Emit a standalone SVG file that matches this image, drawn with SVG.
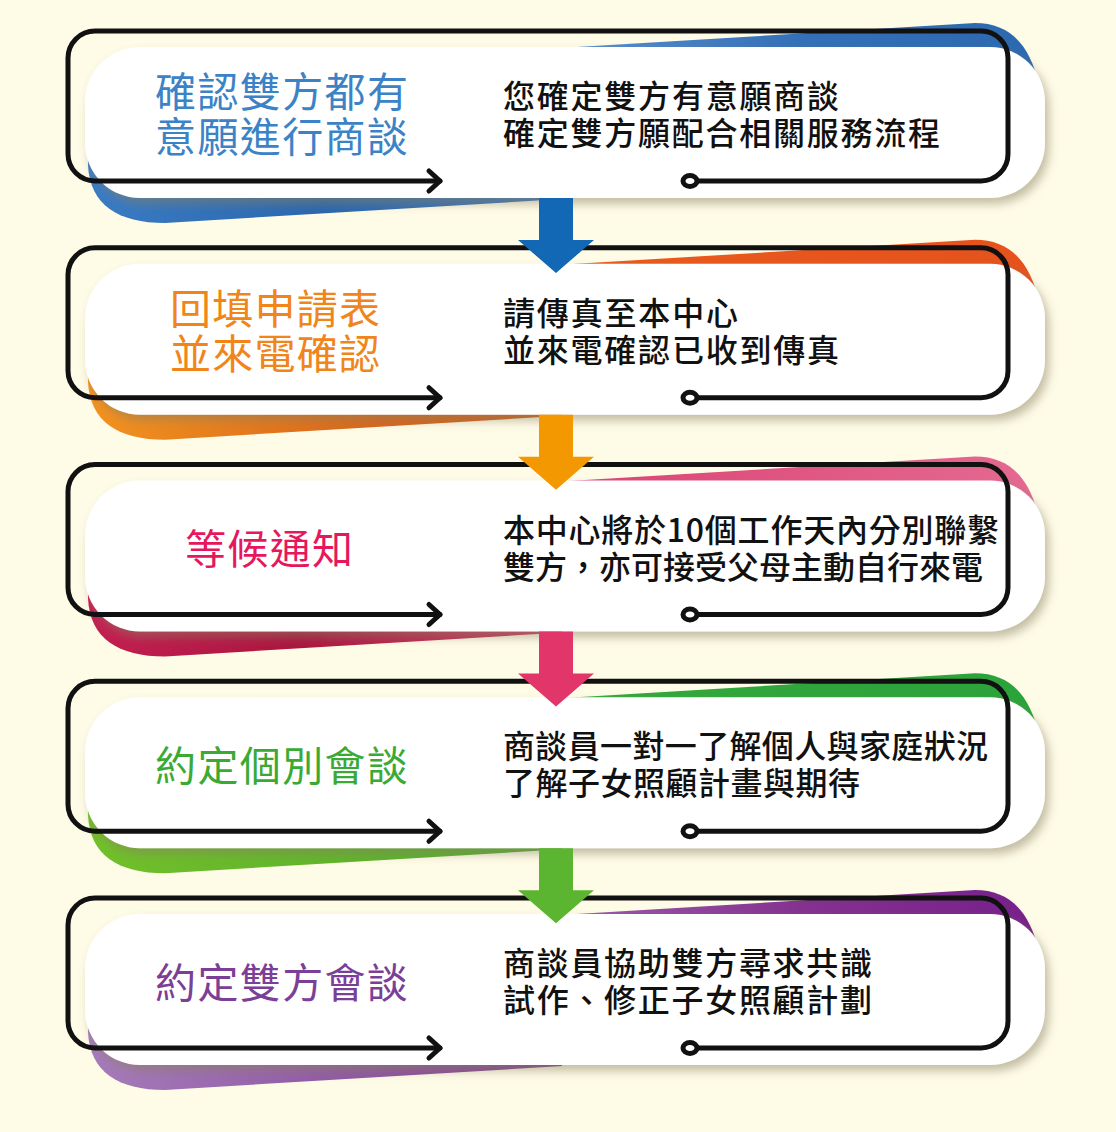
<svg xmlns="http://www.w3.org/2000/svg" width="1116" height="1132" viewBox="0 0 1116 1132">
<defs>
<style>
.box{fill:#ffffff;filter:url(#sh)}
.frame{fill:none;stroke:#111;stroke-width:5;stroke-linecap:round;stroke-linejoin:round}
.ring{fill:#fff;stroke:#111;stroke-width:5}
.title{font-family:"Noto Sans CJK TC","Noto Sans CJK SC",sans-serif;font-size:41px;font-weight:400}
.desc{font-family:"Noto Sans CJK TC","Noto Sans CJK SC",sans-serif;font-size:32px;font-weight:500;fill:#111}
</style>
<filter id="sh" x="-5%" y="-20%" width="112%" height="150%">
<feGaussianBlur in="SourceAlpha" stdDeviation="5"/>
<feOffset dx="4" dy="6" result="b"/>
<feFlood flood-color="#8a8060" flood-opacity="0.5"/>
<feComposite in2="b" operator="in"/>
<feMerge><feMergeNode/><feMergeNode in="SourceGraphic"/></feMerge>
</filter>
<linearGradient id="blueA" gradientUnits="userSpaceOnUse" x1="560" y1="0" x2="1040" y2="0"><stop offset="0" stop-color="#5b8fd0"/><stop offset="0.5" stop-color="#3470b8"/><stop offset="1" stop-color="#2c68b0"/></linearGradient>
<linearGradient id="blueB" gradientUnits="userSpaceOnUse" x1="88" y1="0" x2="562" y2="0"><stop offset="0" stop-color="#3a7cc4"/><stop offset="0.5" stop-color="#2b66ae"/><stop offset="1" stop-color="#3b76bd"/></linearGradient>
<linearGradient id="orA" gradientUnits="userSpaceOnUse" x1="560" y1="0" x2="1040" y2="0"><stop offset="0" stop-color="#ea5a1c"/><stop offset="1" stop-color="#e5521c"/></linearGradient>
<linearGradient id="orB" gradientUnits="userSpaceOnUse" x1="88" y1="0" x2="562" y2="0"><stop offset="0" stop-color="#f29220"/><stop offset="0.6" stop-color="#d9661a"/><stop offset="1" stop-color="#cf5a17"/></linearGradient>
<linearGradient id="pkA" gradientUnits="userSpaceOnUse" x1="560" y1="0" x2="1040" y2="0"><stop offset="0" stop-color="#dc4274"/><stop offset="1" stop-color="#e46a92"/></linearGradient>
<linearGradient id="pkB" gradientUnits="userSpaceOnUse" x1="88" y1="0" x2="562" y2="0"><stop offset="0" stop-color="#c41f52"/><stop offset="0.45" stop-color="#a9163f"/><stop offset="1" stop-color="#cf3b66"/></linearGradient>
<linearGradient id="grA" gradientUnits="userSpaceOnUse" x1="560" y1="0" x2="1040" y2="0"><stop offset="0" stop-color="#35a83e"/><stop offset="1" stop-color="#2aa33a"/></linearGradient>
<linearGradient id="grB" gradientUnits="userSpaceOnUse" x1="88" y1="0" x2="562" y2="0"><stop offset="0" stop-color="#72bf2a"/><stop offset="1" stop-color="#4faa2d"/></linearGradient>
<linearGradient id="puA" gradientUnits="userSpaceOnUse" x1="560" y1="0" x2="1040" y2="0"><stop offset="0" stop-color="#9a5cad"/><stop offset="0.5" stop-color="#84328f"/><stop offset="1" stop-color="#76208a"/></linearGradient>
<linearGradient id="puB" gradientUnits="userSpaceOnUse" x1="88" y1="0" x2="562" y2="0"><stop offset="0" stop-color="#a57cb9"/><stop offset="1" stop-color="#7e3b92"/></linearGradient>
</defs>
<rect x="0" y="0" width="1116" height="1132" fill="#fefbe7"/>

<g id="step1">
<path fill="url(#blueA)" d="M 560,48 L 975,23 C 1010,23 1030,45 1039,85 L 1039,120 L 560,120 Z"/>
<path fill="url(#blueB)" d="M 88,140 L 88,165 C 90,205 118,223 165,223 L 562,199 L 562,140 Z"/>
<rect class="box" x="85" y="47" width="960" height="151" rx="55"/>
<path class="frame" d="M 440,181 L 95,181 A 27 27 0 0 1 68,154 L 68,58 A 27 27 0 0 1 95,31 L 981,31 A 27 27 0 0 1 1008,58 L 1008,154 A 27 27 0 0 1 981,181 L 697,181"/>
<path class="frame" d="M 429,171 L 440,181 L 429,191"/>
<ellipse class="ring" cx="690" cy="181" rx="7" ry="5.5"/>
<text class="title" fill="#3b83c6" x="155" y="107" textLength="253" lengthAdjust="spacing">確認雙方都有</text>
<text class="title" fill="#3b83c6" x="155" y="152" textLength="253" lengthAdjust="spacing">意願進行商談</text>
<text class="desc" x="503" y="108" textLength="336" lengthAdjust="spacing">您確定雙方有意願商談</text>
<text class="desc" x="503" y="145" textLength="437" lengthAdjust="spacing">確定雙方願配合相關服務流程</text>
</g>

<g id="step2" transform="translate(0,216.75)">
<path fill="url(#orA)" d="M 560,48 L 975,23 C 1010,23 1030,45 1039,85 L 1039,120 L 560,120 Z"/>
<path fill="url(#orB)" d="M 88,140 L 88,165 C 90,205 118,223 165,223 L 562,199 L 562,140 Z"/>
<rect class="box" x="85" y="47" width="960" height="151" rx="55"/>
<path class="frame" d="M 440,181 L 95,181 A 27 27 0 0 1 68,154 L 68,58 A 27 27 0 0 1 95,31 L 981,31 A 27 27 0 0 1 1008,58 L 1008,154 A 27 27 0 0 1 981,181 L 697,181"/>
<path class="frame" d="M 429,171 L 440,181 L 429,191"/>
<ellipse class="ring" cx="690" cy="181" rx="7" ry="5.5"/>
<text class="title" fill="#f08519" x="170" y="107" textLength="210" lengthAdjust="spacing">回填申請表</text>
<text class="title" fill="#f08519" x="170" y="152" textLength="210" lengthAdjust="spacing">並來電確認</text>
<text class="desc" x="503" y="108" textLength="235" lengthAdjust="spacing">請傳真至本中心</text>
<text class="desc" x="503" y="145" textLength="336" lengthAdjust="spacing">並來電確認已收到傳真</text>
</g>

<g id="step3" transform="translate(0,433.5)">
<path fill="url(#pkA)" d="M 560,48 L 975,23 C 1010,23 1030,45 1039,85 L 1039,120 L 560,120 Z"/>
<path fill="url(#pkB)" d="M 88,140 L 88,165 C 90,205 118,223 165,223 L 562,199 L 562,140 Z"/>
<rect class="box" x="85" y="47" width="960" height="151" rx="55"/>
<path class="frame" d="M 440,181 L 95,181 A 27 27 0 0 1 68,154 L 68,58 A 27 27 0 0 1 95,31 L 981,31 A 27 27 0 0 1 1008,58 L 1008,154 A 27 27 0 0 1 981,181 L 697,181"/>
<path class="frame" d="M 429,171 L 440,181 L 429,191"/>
<ellipse class="ring" cx="690" cy="181" rx="7" ry="5.5"/>
<text class="title" fill="#e6175c" x="185" y="130" textLength="168" lengthAdjust="spacing">等候通知</text>
<text class="desc" x="503" y="108" textLength="496" lengthAdjust="spacing">本中心將於10個工作天內分別聯繫</text>
<text class="desc" x="503" y="145" textLength="480" lengthAdjust="spacing">雙方，亦可接受父母主動自行來電</text>
</g>

<g id="step4" transform="translate(0,650.25)">
<path fill="url(#grA)" d="M 560,48 L 975,23 C 1010,23 1030,45 1039,85 L 1039,120 L 560,120 Z"/>
<path fill="url(#grB)" d="M 88,140 L 88,165 C 90,205 118,223 165,223 L 562,199 L 562,140 Z"/>
<rect class="box" x="85" y="47" width="960" height="151" rx="55"/>
<path class="frame" d="M 440,181 L 95,181 A 27 27 0 0 1 68,154 L 68,58 A 27 27 0 0 1 95,31 L 981,31 A 27 27 0 0 1 1008,58 L 1008,154 A 27 27 0 0 1 981,181 L 697,181"/>
<path class="frame" d="M 429,171 L 440,181 L 429,191"/>
<ellipse class="ring" cx="690" cy="181" rx="7" ry="5.5"/>
<text class="title" fill="#3aaa35" x="155" y="131" textLength="253" lengthAdjust="spacing">約定個別會談</text>
<text class="desc" x="503" y="108" textLength="485" lengthAdjust="spacing">商談員一對一了解個人與家庭狀況</text>
<text class="desc" x="503" y="145" textLength="357" lengthAdjust="spacing">了解子女照顧計畫與期待</text>
</g>

<g id="step5" transform="translate(0,867)">
<path fill="url(#puA)" d="M 560,48 L 975,23 C 1010,23 1030,45 1039,85 L 1039,120 L 560,120 Z"/>
<path fill="url(#puB)" d="M 88,140 L 88,165 C 90,205 118,223 165,223 L 562,199 L 562,140 Z"/>
<rect class="box" x="85" y="47" width="960" height="151" rx="55"/>
<path class="frame" d="M 440,181 L 95,181 A 27 27 0 0 1 68,154 L 68,58 A 27 27 0 0 1 95,31 L 981,31 A 27 27 0 0 1 1008,58 L 1008,154 A 27 27 0 0 1 981,181 L 697,181"/>
<path class="frame" d="M 429,171 L 440,181 L 429,191"/>
<ellipse class="ring" cx="690" cy="181" rx="7" ry="5.5"/>
<text class="title" fill="#7b3f98" x="155" y="131" textLength="253" lengthAdjust="spacing">約定雙方會談</text>
<text class="desc" x="503" y="108" textLength="369" lengthAdjust="spacing">商談員協助雙方尋求共識</text>
<text class="desc" x="503" y="145" textLength="369" lengthAdjust="spacing">試作、修正子女照顧計劃</text>
</g>

<g id="connectors">
<path fill="#1268b4" d="M 539,198 L 573,198 L 573,240 L 594,240 L 556,273 L 518,240 L 539,240 Z"/>
<path fill="#f39800" transform="translate(0,216.75)" d="M 539,198 L 573,198 L 573,240 L 594,240 L 556,273 L 518,240 L 539,240 Z"/>
<path fill="#e2366a" transform="translate(0,433.5)" d="M 539,198 L 573,198 L 573,240 L 594,240 L 556,273 L 518,240 L 539,240 Z"/>
<path fill="#5cb531" transform="translate(0,650.25)" d="M 539,198 L 573,198 L 573,240 L 594,240 L 556,273 L 518,240 L 539,240 Z"/>
</g>
</svg>
